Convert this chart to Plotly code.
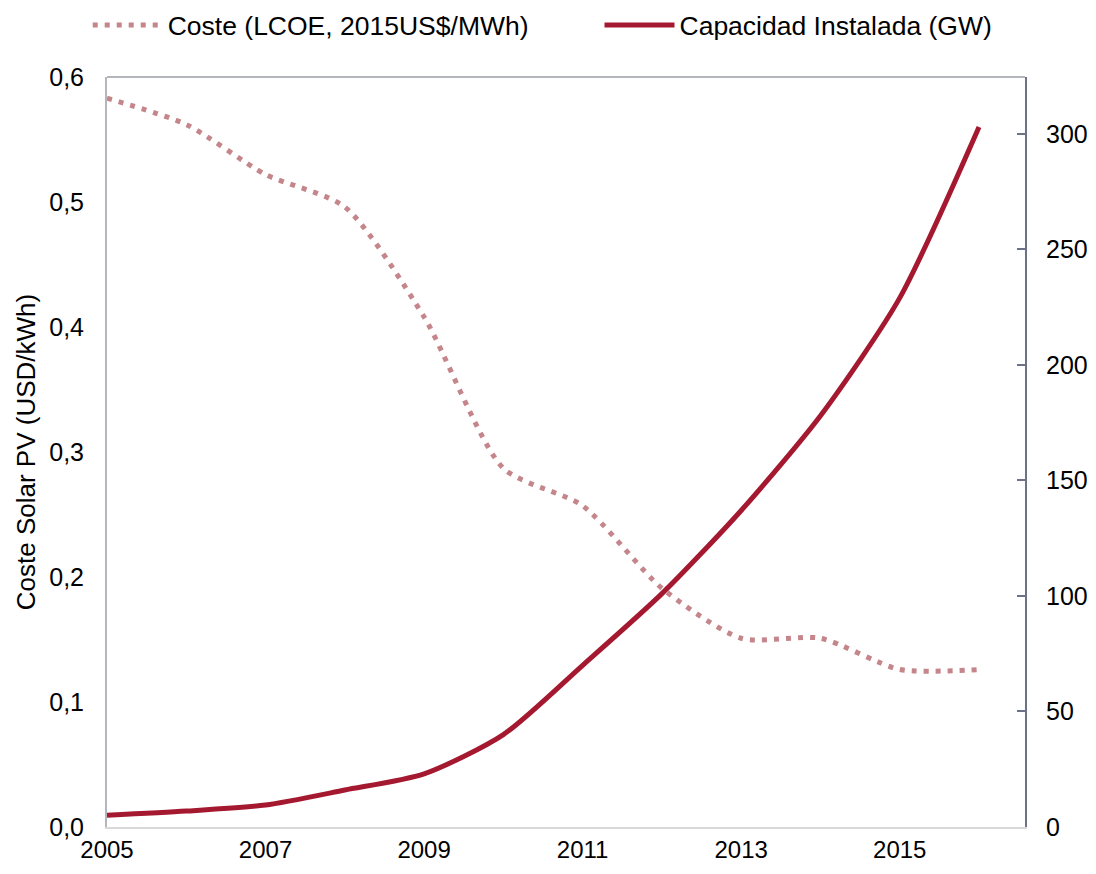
import plotly.graph_objects as go

years = [2005, 2006, 2007, 2008, 2009, 2010, 2011, 2012, 2013, 2014, 2015, 2016]
coste = [0.583, 0.562, 0.522, 0.496, 0.408, 0.287, 0.257, 0.191, 0.151, 0.151, 0.126, 0.126]
capacidad = [5.1, 6.9, 9.5, 16, 23, 40, 70, 101, 137, 178, 229, 303]
xtick_vals = [2005, 2007, 2009, 2011, 2013, 2015]

fig = go.Figure()

# coste LCOE - linea punteada, eje izquierdo
fig.add_trace(go.Scatter(x=years, y=coste, mode='lines', name='Coste (LCOE, 2015US$/MWh)',
                         line=dict(color='#C4868A', width=5, dash='5px,7px', shape='spline', smoothing=0.7),
                         yaxis='y1', legend='legend'))

# capacidad instalada - eje derecho
fig.add_trace(go.Scatter(x=years, y=capacidad, mode='lines', name='Capacidad Instalada (GW)',
                         line=dict(color='#A51930', width=5, shape='spline', smoothing=0.7),
                         yaxis='y2', legend='legend2'))

leyenda = dict(
    orientation='h',
    yanchor='middle', y=1.069,
    xanchor='left',
    font=dict(size=26.5),
    itemwidth=70,
    bgcolor='rgba(0,0,0,0)',
)

fig.update_layout(
    paper_bgcolor='white', plot_bgcolor='white',
    separators=',.',
    font=dict(family='Arial, Liberation Sans, sans-serif', size=25, color='black'),
    margin=dict(l=99, r=63, t=69, b=39, autoexpand=False),
    xaxis=dict(
        range=[2005, 2016.58],
        tickvals=xtick_vals,
        ticktext=[str(v) for v in xtick_vals],
        tickfont=dict(size=24),
        showgrid=False, zeroline=False,
        showline=True, linecolor='#D9D9D9', linewidth=2,
        ticks='', ticklen=0, ticklabelstandoff=0,
        automargin=False,
    ),
    yaxis=dict(
        range=[0, 0.6],
        dtick=0.1, tickformat='.1f',
        showgrid=False, zeroline=False,
        showline=True, linecolor='#B3B7BB', linewidth=2,
        ticks='', ticklabelstandoff=16,
        title=dict(text='Coste Solar PV (USD/kWh)', standoff=6, font=dict(size=26)),
        automargin=False,
    ),
    yaxis2=dict(
        range=[0, 324.6],
        dtick=50,
        overlaying='y', side='right',
        showgrid=False, zeroline=False,
        showline=True, linecolor='#6E7287', linewidth=2,
        ticks='inside', ticklen=8, tickcolor='#6E7287', tickwidth=2,
        ticklabelstandoff=14,
        automargin=False,
    ),
    showlegend=True,
    legend=dict(leyenda, x=-0.021),
    legend2=dict(leyenda, x=0.5365),
)

# linea superior del marco
fig.add_shape(type='line', xref='paper', yref='paper', x0=0, x1=1, y0=1, y1=1,
              line=dict(color='#B3B7BB', width=2))

fig.write_html("out.html")
